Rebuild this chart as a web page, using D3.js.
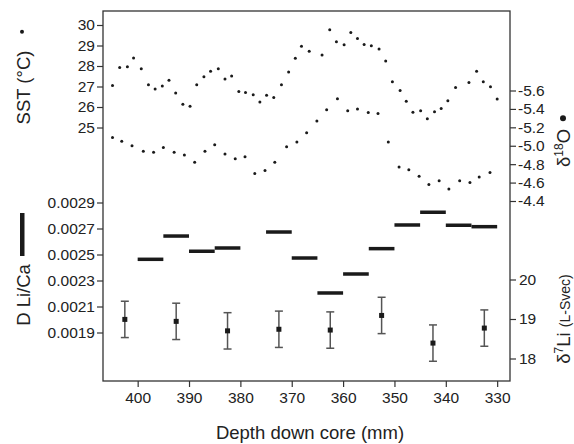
<!DOCTYPE html>
<html>
<head>
<meta charset="utf-8">
<script src="https://cdn.jsdelivr.net/npm/d3@7"></script>
<style>
  body { margin: 0; background: #fff; }
  svg { display: block; font-family: "Liberation Sans", Arial, Helvetica, sans-serif; }
  .tick text { fill: #222; font-size: 15.5px; }
  .tick line { stroke: #333; stroke-width: 1.2; }
</style>
</head>
<body>
<svg id="chart" width="574" height="444"></svg>
<script>
// SST (upper dotted series)
const sstDepth = [404.9,403.5,402.0,400.8,399.3,397.9,396.6,395.2,393.9,392.6,391.2,389.8,388.5,387.1,385.8,384.3,383.0,381.7,380.3,379.0,377.5,376.2,374.9,373.5,372.0,370.6,369.3,368.1,366.6,364.1,362.6,361.3,359.8,358.5,357.2,355.9,354.5,353.0,351.7,350.4,348.9,347.7,346.4,344.9,343.6,342.2,340.9,339.6,338.1,335.5,334.0,332.7,331.3,330.0];
const sstValues = [27.05,27.93,27.96,28.39,27.87,27.08,26.88,27.02,27.31,26.68,26.13,26.04,27.08,27.48,27.75,27.87,27.36,27.51,26.76,26.71,26.60,26.25,26.57,26.46,27.08,27.71,28.38,28.96,28.72,28.54,29.77,29.18,29.04,29.64,29.34,29.05,28.99,28.83,28.25,27.23,26.81,26.28,25.75,25.82,25.43,25.77,25.93,26.31,26.95,27.19,27.75,27.23,26.99,26.39];

// d18O (lower dotted series, right axis, reversed)
const d18ODepth = [404.9,403.1,401.1,398.9,396.9,395.0,392.9,390.9,388.9,386.9,385.0,383.0,381.0,379.1,377.2,375.2,373.3,371.0,369.0,367.1,365.1,363.2,361.1,359.1,357.2,355.1,353.2,351.2,349.1,347.2,345.2,343.3,341.3,339.4,337.3,335.3,333.5,331.4];
const d18OValues = [-5.09,-5.05,-5.00,-4.94,-4.93,-4.98,-4.93,-4.90,-4.82,-4.94,-5.01,-4.91,-4.86,-4.88,-4.70,-4.73,-4.82,-4.99,-5.04,-5.14,-5.27,-5.39,-5.51,-5.38,-5.40,-5.36,-5.35,-5.04,-4.77,-4.74,-4.67,-4.58,-4.62,-4.53,-4.62,-4.60,-4.66,-4.71];

// D Li/Ca, one bar per 5 mm sample
const liCaTop = [400,395,390,385,375,370,365,360,355,350,345,340,335];
const liCaBottom = [395,390,385,380,370,365,360,355,350,345,340,335,330];
const liCaValues = [0.002463,0.002642,0.002525,0.00255,0.002673,0.002473,0.002204,0.00235,0.002545,0.002727,0.002825,0.002725,0.002714];

// d7Li with 2 sigma error
const d7LiDepth = [402.5,392.5,382.5,372.5,362.5,352.5,342.5,332.5];
const d7LiValues = [18.99,18.94,18.70,18.74,18.72,19.09,18.39,18.77];
const d7LiErr = [0.46,0.46,0.46,0.46,0.46,0.46,0.46,0.46];

const depthTicks = [400,390,380,370,360,350,340,330];
const sstTicks = [25,26,27,28,29,30];
const liCaTicks = [0.0019,0.0021,0.0023,0.0025,0.0027,0.0029];
const d18OTicks = [-5.6,-5.4,-5.2,-5.0,-4.8,-4.6,-4.4];
const d7LiTicks = [18,19,20];

const plotL = 103, plotR = 510, plotT = 11, plotB = 381;
const ink = "#1a1a1a";

let svg = d3.select("#chart");

let x = d3.scaleLinear().domain([406.75, 327.5]).range([plotL, plotR]);
let ySST = d3.scaleLinear().domain([25, 30]).range([127.5, 25]);
let yLiCa = d3.scaleLinear().domain([0.0019, 0.0029]).range([332.5, 202.5]);
let yO = d3.scaleLinear().domain([-5.6, -4.4]).range([90.5, 201]);
let yLi = d3.scaleLinear().domain([18, 20]).range([358.5, 279.5]);

// axes (no domain path, the frame is drawn after)
function axis(g, a) {
  g.call(a);
  g.select(".domain").remove();
}
svg.append("g").attr("transform", "translate(0," + plotB + ")")
  .call(g => axis(g, d3.axisBottom(x).tickValues(depthTicks).tickSize(6).tickPadding(5).tickFormat(d3.format("d"))));
svg.append("g").attr("transform", "translate(" + plotL + ",0)")
  .call(g => axis(g, d3.axisLeft(ySST).tickValues(sstTicks).tickSize(6).tickPadding(2).tickFormat(d3.format("d"))));
svg.append("g").attr("transform", "translate(" + plotL + ",0)")
  .call(g => axis(g, d3.axisLeft(yLiCa).tickValues(liCaTicks).tickSize(6).tickPadding(2).tickFormat(d => d.toFixed(4))));
svg.append("g").attr("transform", "translate(" + plotR + ",0)")
  .call(g => axis(g, d3.axisRight(yO).tickValues(d18OTicks).tickSize(6).tickPadding(2).tickFormat(d => d.toFixed(1))));
svg.append("g").attr("transform", "translate(" + plotR + ",0)")
  .call(g => axis(g, d3.axisRight(yLi).tickValues(d7LiTicks).tickSize(6).tickPadding(3).tickFormat(d3.format("d"))));

svg.append("rect")
  .attr("x", plotL).attr("y", plotT)
  .attr("width", plotR - plotL).attr("height", plotB - plotT)
  .attr("fill", "none").attr("stroke", "#333").attr("stroke-width", 1.3);

// dots
svg.append("g").selectAll("circle")
  .data(sstDepth)
  .enter().append("circle")
  .attr("cx", d => x(d))
  .attr("cy", (d, i) => ySST(sstValues[i]))
  .attr("r", 1.5)
  .attr("fill", ink);

svg.append("g").selectAll("circle")
  .data(d18ODepth)
  .enter().append("circle")
  .attr("cx", d => x(d))
  .attr("cy", (d, i) => yO(d18OValues[i]))
  .attr("r", 1.5)
  .attr("fill", ink);

// Li/Ca bars
svg.append("g").selectAll("line")
  .data(liCaValues)
  .enter().append("line")
  .attr("x1", (d, i) => x(liCaTop[i]))
  .attr("x2", (d, i) => x(liCaBottom[i]))
  .attr("y1", d => yLiCa(d))
  .attr("y2", d => yLiCa(d))
  .attr("stroke", ink)
  .attr("stroke-width", 3.5);

// d7Li error bars
let eb = svg.append("g").selectAll("g")
  .data(d7LiDepth)
  .enter().append("g");
eb.append("line")
  .attr("x1", d => x(d)).attr("x2", d => x(d))
  .attr("y1", (d, i) => yLi(d7LiValues[i] + d7LiErr[i]))
  .attr("y2", (d, i) => yLi(d7LiValues[i] - d7LiErr[i]))
  .attr("stroke", "#555").attr("stroke-width", 1.5);
eb.append("line")
  .attr("x1", d => x(d) - 4).attr("x2", d => x(d) + 4)
  .attr("y1", (d, i) => yLi(d7LiValues[i] + d7LiErr[i]))
  .attr("y2", (d, i) => yLi(d7LiValues[i] + d7LiErr[i]))
  .attr("stroke", "#555").attr("stroke-width", 1.5);
eb.append("line")
  .attr("x1", d => x(d) - 4).attr("x2", d => x(d) + 4)
  .attr("y1", (d, i) => yLi(d7LiValues[i] - d7LiErr[i]))
  .attr("y2", (d, i) => yLi(d7LiValues[i] - d7LiErr[i]))
  .attr("stroke", "#555").attr("stroke-width", 1.5);
eb.append("rect")
  .attr("x", d => x(d) - 2.5)
  .attr("y", (d, i) => yLi(d7LiValues[i]) - 2.5)
  .attr("width", 5).attr("height", 5)
  .attr("fill", ink);

// titles
svg.append("text")
  .attr("x", 310).attr("y", 439)
  .attr("text-anchor", "middle")
  .attr("font-size", 18.5).attr("fill", "#222")
  .text("Depth down core (mm)");

svg.append("text")
  .attr("transform", "translate(29.5,87.5) rotate(-90)")
  .attr("text-anchor", "middle")
  .attr("font-size", 18.5).attr("fill", "#222")
  .text("SST (°C)");
svg.append("circle").attr("cx", 22).attr("cy", 31.7).attr("r", 2).attr("fill", ink);

svg.append("text")
  .attr("transform", "translate(29.5,295) rotate(-90)")
  .attr("text-anchor", "middle")
  .attr("font-size", 18.5).attr("fill", "#222")
  .text("D Li/Ca");
svg.append("rect").attr("x", 20).attr("y", 213).attr("width", 4.5).attr("height", 43).attr("fill", ink);

let oLabel = svg.append("text")
  .attr("transform", "translate(570,148) rotate(-90)")
  .attr("text-anchor", "middle")
  .attr("font-size", 18.5).attr("fill", "#222");
oLabel.append("tspan").text("δ");
oLabel.append("tspan").attr("font-size", 12).attr("dy", -7).text("18");
oLabel.append("tspan").attr("dy", 7).text("O");
svg.append("circle").attr("cx", 563).attr("cy", 118.3).attr("r", 3).attr("fill", ink);

let liLabel = svg.append("text")
  .attr("transform", "translate(570,319) rotate(-90)")
  .attr("text-anchor", "middle")
  .attr("font-size", 18.5).attr("fill", "#222");
liLabel.append("tspan").text("δ");
liLabel.append("tspan").attr("font-size", 12).attr("dy", -7).text("7");
liLabel.append("tspan").attr("dy", 7).text("Li ");
liLabel.append("tspan").attr("font-size", 14).text("(L-Svec)");
</script>
</body>
</html>
